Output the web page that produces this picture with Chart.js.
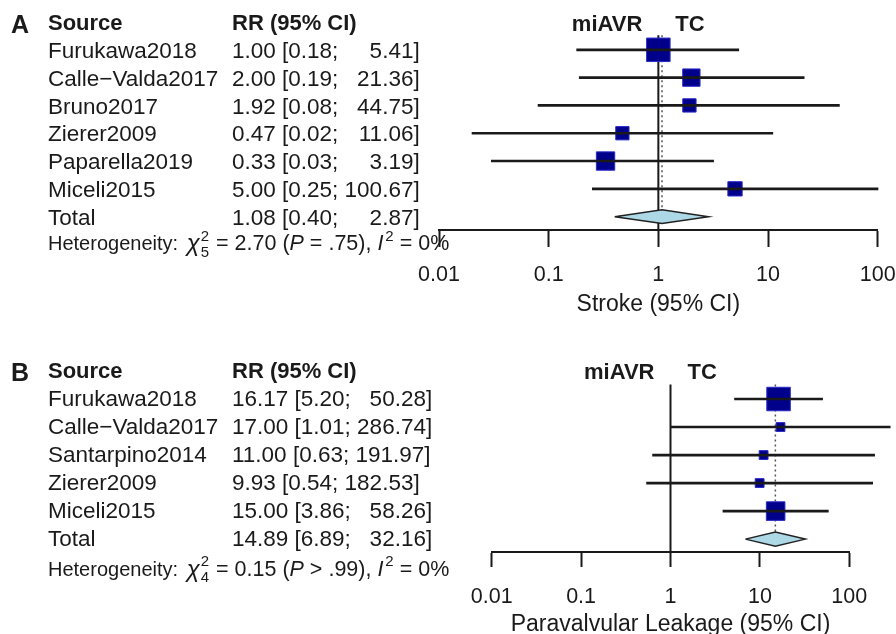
<!DOCTYPE html>
<html>
<head>
<meta charset="utf-8">
<title>Forest plots: stroke and paravalvular leakage</title>
<script src="https://cdn.jsdelivr.net/npm/chart.js@4.4.1/dist/chart.umd.min.js"></script>
<style>
  html, body { margin: 0; padding: 0; background: #fff; }
  #wrap { position: relative; width: 896px; height: 634px; overflow: hidden; }
  canvas { position: absolute; left: 0; }
  #panelA { top: 0; }
  #panelB { top: 316px; }
</style>
</head>
<body>
<div id="wrap">
  <!-- panel A is a bit wider than the page so the "100" label does not squeeze the axis -->
  <canvas id="panelA" width="920" height="318"></canvas>
  <canvas id="panelB" width="896" height="322"></canvas>
</div>
<script>
const FONT = '"Liberation Sans", Arial, Helvetica, sans-serif';
const INK = '#1a1a1a';

// log axis ticks, shared by both panels
const tickValues = [0.01, 0.1, 1, 10, 100];
const tickLabels = ['0.01', '0.1', '1', '10', '100'];
const groupLabels = ['miAVR', 'TC'];

// Panel A - stroke
const studiesA = ['Furukawa2018', 'Calle\u2212Valda2017', 'Bruno2017', 'Zierer2009', 'Paparella2019', 'Miceli2015'];
const rrA = [1.00, 2.00, 1.92, 0.47, 0.33, 5.00];
const lowerA = [0.18, 0.19, 0.08, 0.02, 0.03, 0.25];
const upperA = [5.41, 21.36, 44.75, 11.06, 3.19, 100.67];
const weightA = [31.6, 17.2, 10.1, 10.1, 19.3, 11.7]; // % weights
const totalA = [1.08, 0.40, 2.87]; // RR, lower, upper
const hetA = [2.70, 5, '= .75', 0]; // chi2, df, P, I2

// Panel B - paravalvular leakage
const studiesB = ['Furukawa2018', 'Calle\u2212Valda2017', 'Santarpino2014', 'Zierer2009', 'Miceli2015'];
const rrB = [16.17, 17.00, 11.00, 9.93, 15.00];
const lowerB = [5.20, 1.01, 0.63, 0.54, 3.86];
const upperB = [50.28, 286.74, 191.97, 182.53, 58.26];
const weightB = [48.8, 6.9, 6.9, 6.9, 30.5];
const totalB = [14.89, 6.89, 32.16];
const hetB = [0.15, 4, '> .99', 0];

const NAME_X = 48;
const VALUE_X = 232;
const MAX_BOX = 23.5;
const LINE_TOP = 0.48;
const DIAMOND_H = 0.25;

// draws the table on the left, the group headers and the heterogeneity line
function textPlugin(p) {
  return {
    id: 'forestText',
    afterDraw(chart) {
      const ctx = chart.ctx;
      const ys = chart.scales.y;
      const xs = chart.scales.x;
      const rowY = (r) => ys.getPixelForValue(r) + p.textShift;
      ctx.save();
      ctx.fillStyle = INK;
      ctx.textBaseline = 'middle';
      ctx.textAlign = 'left';

      ctx.font = `bold 25px ${FONT}`;
      ctx.fillText(p.letter, 11, rowY(0) + 2);

      ctx.font = `bold 22px ${FONT}`;
      ctx.fillText('Source', NAME_X, rowY(0));
      ctx.fillText('RR (95% CI)', VALUE_X, rowY(0));
      const x1 = xs.getPixelForValue(1);
      ctx.textAlign = 'right';
      ctx.fillText(groupLabels[0], x1 - 16, rowY(0) + 1);
      ctx.textAlign = 'left';
      ctx.fillText(groupLabels[1], x1 + 17, rowY(0) + 1);

      ctx.font = `22.5px ${FONT}`;
      const names = [...p.studies, 'Total'];
      const est = [...p.rr, p.total[0]];
      const lo = [...p.lower, p.total[1]];
      const hi = [...p.upper, p.total[2]];
      const lefts = names.map((_, i) => `${est[i].toFixed(2)} [${lo[i].toFixed(2)}; `);
      const rights = names.map((_, i) => `${hi[i].toFixed(2)}]`);
      const rightW = Math.max(...rights.map((s) => ctx.measureText(s).width));
      names.forEach((n, i) => {
        const yy = rowY(i + 1);
        ctx.textAlign = 'left';
        ctx.fillText(n, NAME_X, yy);
        ctx.fillText(lefts[i], VALUE_X, yy);
        ctx.textAlign = 'right';
        ctx.fillText(rights[i], VALUE_X + ctx.measureText(lefts[i]).width + rightW, yy);
      });

      // Heterogeneity: chi2_df = .. (P ..), I2 = ..%
      const [chi2, df, pTxt, i2] = p.het;
      const label = `20px ${FONT}`;
      const reg = `21.5px ${FONT}`;
      const ital = `italic 21.5px ${FONT}`;
      const small = `15px ${FONT}`;
      const hy = ys.getPixelForValue(names.length + 1) + p.hetShift;
      let hx = NAME_X;
      ctx.textAlign = 'left';
      const put = (s, font) => {
        ctx.font = font;
        ctx.fillText(s, hx, hy);
        hx += ctx.measureText(s).width;
      };
      put('Heterogeneity: ', label);
      hx += 3;
      put('\u03c7', `italic 24px ${FONT}`);
      ctx.font = small;
      ctx.fillText('2', hx + 1, hy - 8);
      ctx.fillText(String(df), hx + 1, hy + 8);
      hx += ctx.measureText('2').width + 2;
      put(` = ${chi2.toFixed(2)} (`, reg);
      put('P', ital);
      put(` ${pTxt}), `, reg);
      put('I', ital);
      ctx.font = small;
      ctx.fillText('2', hx + 2, hy - 8);
      hx += ctx.measureText('2').width + 2;
      put(` = ${i2}%`, reg);
      ctx.restore();
    },
  };
}

function makeForest(canvasId, p) {
  const rows = p.studies.map((_, i) => i + 1);
  const totalRow = p.studies.length + 1;
  const maxW = Math.max(...p.weight);
  const [tEst, tLo, tHi] = p.total;

  const datasets = [
    {
      // confidence intervals as thin floating bars
      type: 'bar',
      indexAxis: 'y',
      data: rows.map((r, i) => ({ x: [p.lower[i], p.upper[i]], y: r })),
      backgroundColor: INK,
      borderWidth: 0,
      barThickness: 2,
      clip: false,
    },
    {
      // study estimates, square area follows the weight
      type: 'scatter',
      data: rows.map((r, i) => ({ x: p.rr[i], y: r })),
      pointStyle: 'rect',
      pointRadius: p.weight.map((w) => (MAX_BOX * Math.sqrt(w / maxW)) / Math.SQRT2),
      backgroundColor: '#00008b',
      borderColor: '#2a2ac8',
      borderWidth: 1,
      clip: false,
    },
    {
      // pooled estimate diamond
      type: 'line',
      data: [
        { x: tLo, y: totalRow },
        { x: tEst, y: totalRow - DIAMOND_H },
        { x: tHi, y: totalRow },
        { x: tEst, y: totalRow + DIAMOND_H },
        { x: tLo, y: totalRow },
      ],
      fill: 'shape',
      backgroundColor: '#add8e6',
      borderColor: '#222',
      borderWidth: 1.5,
      pointRadius: 0,
      tension: 0,
      clip: false,
    },
    {
      // pooled estimate, dotted
      type: 'line',
      data: [{ x: tEst, y: LINE_TOP }, { x: tEst, y: totalRow - DIAMOND_H }],
      borderColor: '#555',
      borderWidth: 1.5,
      borderDash: [2, 3],
      pointRadius: 0,
      clip: false,
    },
    {
      // line of no effect
      type: 'line',
      data: [{ x: 1, y: LINE_TOP }, { x: 1, y: p.axisRow }],
      borderColor: INK,
      borderWidth: 2,
      pointRadius: 0,
      clip: false,
    },
  ];

  return new Chart(document.getElementById(canvasId), {
    type: 'scatter',
    data: { datasets },
    options: {
      responsive: false,
      animation: false,
      devicePixelRatio: 1,
      events: [],
      layout: { padding: { left: p.left, right: p.right, top: p.top, bottom: 0 } },
      plugins: { legend: { display: false }, tooltip: { enabled: false } },
      scales: {
        x: {
          type: 'logarithmic',
          position: 'bottom',
          min: 0.01,
          max: 100,
          beginAtZero: false,
          afterBuildTicks: (scale) => {
            scale.ticks = tickValues.map((v) => ({ value: v }));
          },
          ticks: {
            autoSkip: false,
            maxRotation: 0,
            padding: p.tickPad,
            color: INK,
            font: { family: FONT, size: 21.5 },
            callback: (v, i) => tickLabels[i],
          },
          grid: {
            drawOnChartArea: false,
            drawTicks: true,
            tickLength: p.tickLength,
            tickWidth: 2,
            tickColor: INK,
          },
          border: { display: true, color: INK, width: 2 },
          title: {
            display: true,
            text: p.axisTitle,
            color: INK,
            font: { family: FONT, size: 23 },
            padding: { top: p.titlePad, bottom: 0 },
          },
        },
        y: {
          type: 'linear',
          display: false,
          reverse: true,
          offset: false,
          min: 0,
          max: p.axisRow,
        },
      },
    },
    plugins: [textPlugin(p)],
  });
}

makeForest('panelA', {
  letter: 'A',
  studies: studiesA, rr: rrA, lower: lowerA, upper: upperA, weight: weightA,
  total: totalA, het: hetA,
  axisTitle: 'Stroke (95% CI)',
  left: 439, right: 42.3, top: 22,
  axisRow: 7.48,
  tickLength: 17, tickPad: 15, titlePad: -12.4,
  textShift: 2, hetShift: 0,
});

makeForest('panelB', {
  letter: 'B',
  studies: studiesB, rr: rrB, lower: lowerB, upper: upperB, weight: weightB,
  total: totalB, het: hetB,
  axisTitle: 'Paravalvular Leakage (95% CI)',
  left: 491.7, right: 46.7, top: 55,
  axisRow: 6.46,
  tickLength: 15, tickPad: 17, titlePad: -16.4,
  textShift: 1, hetShift: 3,
});
</script>
</body>
</html>
